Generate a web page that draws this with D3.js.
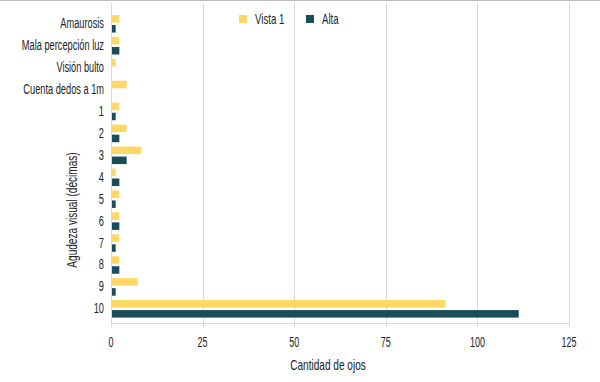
<!DOCTYPE html>
<html><head><meta charset="utf-8">
<script src="https://cdn.jsdelivr.net/npm/d3@7"></script>
<style>
body{margin:0;background:#fff;}
text{font-family:"Liberation Sans",Arial,sans-serif;fill:#222;}
</style></head><body>
<svg id="c" width="600" height="382"></svg>
<script>
const categories = ["Amaurosis","Mala percepción luz","Visión bulto","Cuenta dedos a 1m","1","2","3","4","5","6","7","8","9","10"];
const seriesNames = ["Vista 1","Alta"];
const vista1 = [2,2,1,4,2,4,8,1,2,2,2,2,7,91];
const alta   = [1,2,0,0,1,2,4,2,1,2,1,2,1,111];
const xTicks = [0,25,50,75,100,125];
const colors = ["#fdd865","#1a4d5a"];

(function(){
const svg = d3.select("#c");
const pl = 111, pr = 569, pt = 3, pb = 323;
const x = d3.scaleLinear().domain([0,125]).range([pl,pr]);
const y = d3.scaleBand().domain(categories).range([15,317.6]).paddingInner(0.2).paddingOuter(0);
const sub = d3.scaleBand().domain(seriesNames).range([0,y.bandwidth()]).paddingInner(0.25);

function label(g, tx, ty, txt, size, sx, anchor, rot){
  return g.append("text")
    .attr("transform",`translate(${tx},${ty})` + (rot?` rotate(${rot})`:"") + ` scale(${sx},1)`)
    .attr("text-anchor",anchor).style("font-size",size+"px").text(txt);
}

svg.append("line").attr("x1",0).attr("x2",600).attr("y1",0.5).attr("y2",0.5).attr("stroke","#bdbdbd");

svg.append("g").selectAll("line").data(xTicks).join("line")
  .attr("x1",d=>Math.round(x(d))+0.5).attr("x2",d=>Math.round(x(d))+0.5)
  .attr("y1",pt).attr("y2",pb+4)
  .attr("stroke","#d9d9d9");
svg.append("line").attr("x1",pl).attr("x2",pr).attr("y1",pb+0.5).attr("y2",pb+0.5).attr("stroke","#d9d9d9");

const data = [vista1, alta];
data.forEach((vals,si)=>{
  svg.append("g").selectAll("rect").data(categories).join("rect")
    .attr("x",x(0)+1)
    .attr("y",c=>y(c)+sub(seriesNames[si]))
    .attr("height",sub.bandwidth())
    .attr("width",(c,i)=>Math.max(0,x(vals[i])-x(0)))
    .attr("fill",colors[si]);
});

const gy = svg.append("g");
categories.forEach(c=>{
  label(gy, pl-7, y(c)+y.bandwidth()/2+4.5, c, 14, 0.66, "end");
});
const gx = svg.append("g");
xTicks.forEach(t=>{
  label(gx, x(t), 347, String(t), 14, 0.64, "middle");
});

label(svg, 328, 370, "Cantidad de ojos", 14, 0.72, "middle");
label(svg, 77, 210, "Agudeza visual (décimas)", 14, 0.72, "middle", -90);

const lg = [{n:seriesNames[0],x:239,c:colors[0]},{n:seriesNames[1],x:306,c:colors[1]}];
lg.forEach(l=>{
  svg.append("rect").attr("x",l.x).attr("y",15).attr("width",8).attr("height",8).attr("fill",l.c);
  label(svg, l.x+16, 24, l.n, 14, 0.69, "start");
});
})();
</script></body></html>
